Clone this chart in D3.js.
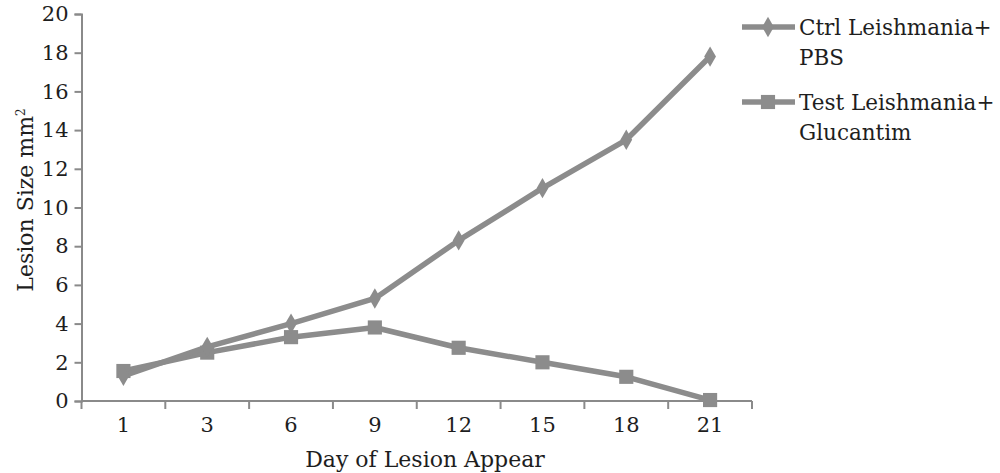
<!DOCTYPE html>
<html><head><meta charset="utf-8">
<script src="https://cdn.jsdelivr.net/npm/d3@7"></script>
<style>body{margin:0;background:#fff;} text{font-family:"DejaVu Serif",serif;fill:#1e1e1e;}</style>
</head><body>
<svg id="c" width="1000" height="473"></svg>
<script>
const days = ["1","3","6","9","12","15","18","21"];
const ctrlValues = [1.3, 2.8, 4.0, 5.3, 8.3, 11.0, 13.5, 17.8];
const testValues = [1.55, 2.5, 3.3, 3.8, 2.75, 2.0, 1.25, 0.05];
const yTicks = [0,2,4,6,8,10,12,14,16,18,20];
const seriesNames = [["Ctrl Leishmania+","PBS"],["Test Leishmania+","Glucantim"]];

const svg = d3.select("#c");
const m = {left:81.5, right:752, top:14, bottom:401};
const x = d3.scaleBand().domain(days).range([m.left, m.right]);
const y = d3.scaleLinear().domain([0,20]).range([m.bottom, m.top]);
const gray = "#8c8c8c", axisC = "#8a8a8a";
const fs = "21px";

// y axis
const ya = svg.append("g").attr("transform",`translate(${m.left},0)`)
  .call(d3.axisLeft(y).tickValues(yTicks).tickSize(7).tickPadding(6));
ya.select(".domain").attr("stroke",axisC).attr("stroke-width",2);
ya.selectAll(".tick line").attr("stroke",axisC).attr("stroke-width",2);
ya.selectAll(".tick text").style("font-size",fs).attr("fill","#1e1e1e").attr("font-family","DejaVu Serif");

// x axis with ticks at band boundaries
const xa = svg.append("g").attr("transform",`translate(0,${m.bottom})`);
xa.append("line").attr("x1",m.left).attr("x2",m.right).attr("stroke",axisC).attr("stroke-width",2);
const bounds = days.map(d=>x(d)).concat([m.right]);
xa.selectAll("line.tk").data(bounds).join("line").attr("class","tk")
  .attr("x1",d=>d).attr("x2",d=>d).attr("y1",0).attr("y2",8).attr("stroke",axisC).attr("stroke-width",2);
xa.selectAll("text").data(days).join("text")
  .attr("x",d=>x(d)+x.bandwidth()/2).attr("y",31).attr("text-anchor","middle")
  .style("font-size",fs).text(d=>d);

// titles
svg.append("text").attr("x",425).attr("y",467).attr("text-anchor","middle").style("font-size","22px").text("Day of Lesion Appear");
const yt = svg.append("text").attr("transform","translate(33,200) rotate(-90)").attr("text-anchor","middle").style("font-size","22px");
yt.append("tspan").text("Lesion Size mm");
yt.append("tspan").attr("dy",-8).style("font-size","12px").text("2");

const cx = d => x(d)+x.bandwidth()/2;
const line = d3.line().x((v,i)=>cx(days[i])).y(v=>y(v));
const diamond = d3.symbol().type(d3.symbolDiamond).size(120);
const square = d3.symbol().type(d3.symbolSquare).size(200);

// test series
svg.append("path").attr("d",line(testValues)).attr("fill","none").attr("stroke",gray).attr("stroke-width",5.5).attr("stroke-linejoin","round");
svg.selectAll("path.sq").data(testValues).join("path").attr("class","sq")
  .attr("d",square).attr("transform",(v,i)=>`translate(${cx(days[i])},${y(v)})`).attr("fill",gray);
// ctrl series
svg.append("path").attr("d",line(ctrlValues)).attr("fill","none").attr("stroke",gray).attr("stroke-width",5.5).attr("stroke-linejoin","round");
svg.selectAll("path.dm").data(ctrlValues).join("path").attr("class","dm")
  .attr("d",diamond).attr("transform",(v,i)=>`translate(${cx(days[i])},${y(v)})`).attr("fill",gray);

// legend
const leg = [{y:27, sym:diamond, names:seriesNames[0]},{y:102, sym:square, names:seriesNames[1]}];
leg.forEach(l=>{
  svg.append("line").attr("x1",742).attr("x2",795).attr("y1",l.y).attr("y2",l.y).attr("stroke",gray).attr("stroke-width",5.5);
  svg.append("path").attr("d",l.sym).attr("transform",`translate(768,${l.y})`).attr("fill",gray);
  svg.append("text").attr("x",799).attr("y",l.y+8).style("font-size","21.5px").text(l.names[0]);
  svg.append("text").attr("x",799).attr("y",l.y+38).style("font-size","21.5px").text(l.names[1]);
});
</script>
</body></html>
